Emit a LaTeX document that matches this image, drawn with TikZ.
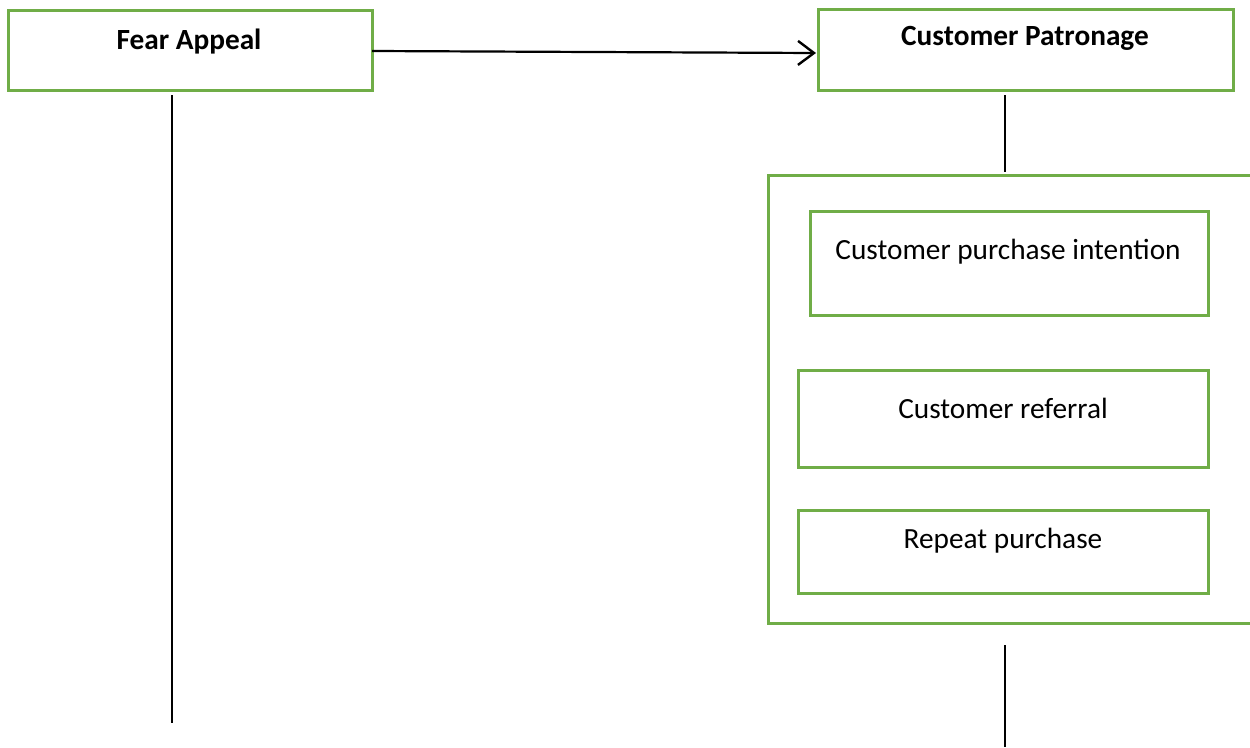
\documentclass[tikz,border=0pt]{standalone}
\usepackage{fontspec}
\setmainfont{Carlito}
\usetikzlibrary{arrows.meta}
\definecolor{boxgreen}{HTML}{70AD47}
\tikzset{
  gbox/.style={draw=boxgreen, line width=3pt, fill=none},
  lbl/.style={inner sep=0pt, font=\fontsize{29.3}{35}\selectfont},
  blbl/.style={inner sep=0pt, font=\fontsize{29.3}{35}\selectfont\bfseries},
  vline/.style={draw=black, line width=1.6pt},
  conn/.style={draw=black, line width=2.2pt, -{Straight Barb[length=16pt, width=24pt, line width=2.4pt]}}
}
\begin{document}
\begin{tikzpicture}[x=1pt, y=-1pt]
\useasboundingbox (0,0) rectangle (1250,747);
% boxes
\draw[gbox] (8,10) rectangle (372,90);
\node[blbl] (fear) at (189,42) {Fear Appeal};
\draw[gbox] (818,9) rectangle (1233,90);
\node[blbl] (patr) at (1025,38) {Customer Patronage};
% big open box
\draw[gbox] (1252,175) -- (768,175) -- (768,623) -- (1252,623);
\draw[gbox] (810,211) rectangle (1208,315);
\node[lbl] (cpi) at (1008,252) {Customer purchase intention};
\draw[gbox] (798,370) rectangle (1208,467);
\node[lbl] (cr) at (1003,408) {Customer referral};
\draw[gbox] (798,510) rectangle (1208,593);
\node[lbl] (rp) at (1003,541) {Repeat purchase};
% connectors
\coordinate (a1) at (372,51);
\coordinate (a2) at (816,53);
\draw[conn] (a1) -- (a2);
\coordinate (l1) at (172,95);
\coordinate (l2) at (172,723);
\draw[vline] (l1) -- (l2);
\coordinate (r1) at (1005,95);
\coordinate (r2) at (1005,172);
\draw[vline] (r1) -- (r2);
\coordinate (r3) at (1005,645);
\coordinate (r4) at (1005,747);
\draw[vline] (r3) -- (r4);
\end{tikzpicture}
\end{document}
